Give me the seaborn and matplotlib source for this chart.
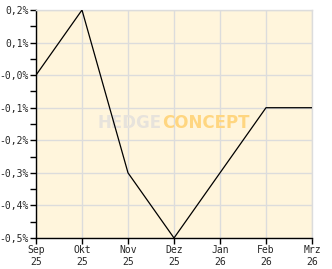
import matplotlib
matplotlib.use("Agg")
import matplotlib.pyplot as plt
import seaborn as sns
import pandas as pd
from matplotlib.ticker import MultipleLocator

months = ["Sep\n25", "Okt\n25", "Nov\n25", "Dez\n25", "Jan\n26", "Feb\n26", "Mrz\n26"]
values = [0.0, 0.2, -0.3, -0.5, -0.3, -0.1, -0.1]
ytick_vals = [0.2, 0.1, 0.0, -0.1, -0.2, -0.3, -0.4, -0.5]
ytick_labels = ["0,2%", "0,1%", "-0,0%", "-0,1%", "-0,2%", "-0,3%", "-0,4%", "-0,5%"]

sns.set_style("white")
plt.rcParams['font.family'] = ['DejaVu Sans Mono']

df = pd.DataFrame({"x": range(len(months)), "y": values})

fig = plt.figure(figsize=(3.32, 2.69), dpi=100)
fig.patch.set_facecolor("white")
ax = fig.add_axes([36/332, 31/269, 276/332, 228/269])
ax.set_facecolor("#FFF5DC")

grid_c = "#DCDCDC"
for v in ytick_vals:
    ax.axhline(v, color=grid_c, lw=1, zorder=0)
for i in range(len(months)):
    ax.axvline(i, color=grid_c, lw=1, zorder=0)

# watermark
wx = (162 - 36) / 276
wy = (269 - 123 - 31) / 228
ax.text(wx, wy, "HEDGE", transform=ax.transAxes,
        ha="right", va="center", fontsize=12, fontweight="bold",
        color="#E7E3DC", family="DejaVu Sans", zorder=1)
ax.text(wx, wy, "CONCEPT", transform=ax.transAxes,
        ha="left", va="center", fontsize=12, fontweight="bold",
        color="#FFD680", family="DejaVu Sans", zorder=1)

sns.lineplot(data=df, x="x", y="y", ax=ax, color="black", lw=0.9, zorder=3)

ax.set_xlim(0, len(months) - 1)
ax.set_ylim(-0.5, 0.2)
ax.set_xticks(range(len(months)))
ax.set_xticklabels(months, fontsize=7)
ax.set_yticks(ytick_vals)
ax.set_yticklabels(ytick_labels, fontsize=7)
ax.yaxis.set_minor_locator(MultipleLocator(0.05))
ax.set_xlabel("")
ax.set_ylabel("")

ax.tick_params(axis="both", which="major", direction="out", length=4, width=1,
               color="black", pad=1, left=True, bottom=True)
ax.tick_params(axis="y", which="minor", direction="out", length=4, width=1,
               color="black", left=True)

for s in ["top", "right"]:
    ax.spines[s].set_color(grid_c)
    ax.spines[s].set_linewidth(1)
for s in ["left", "bottom"]:
    ax.spines[s].set_color("black")
    ax.spines[s].set_linewidth(1)

fig.savefig("out.png", dpi=100)
